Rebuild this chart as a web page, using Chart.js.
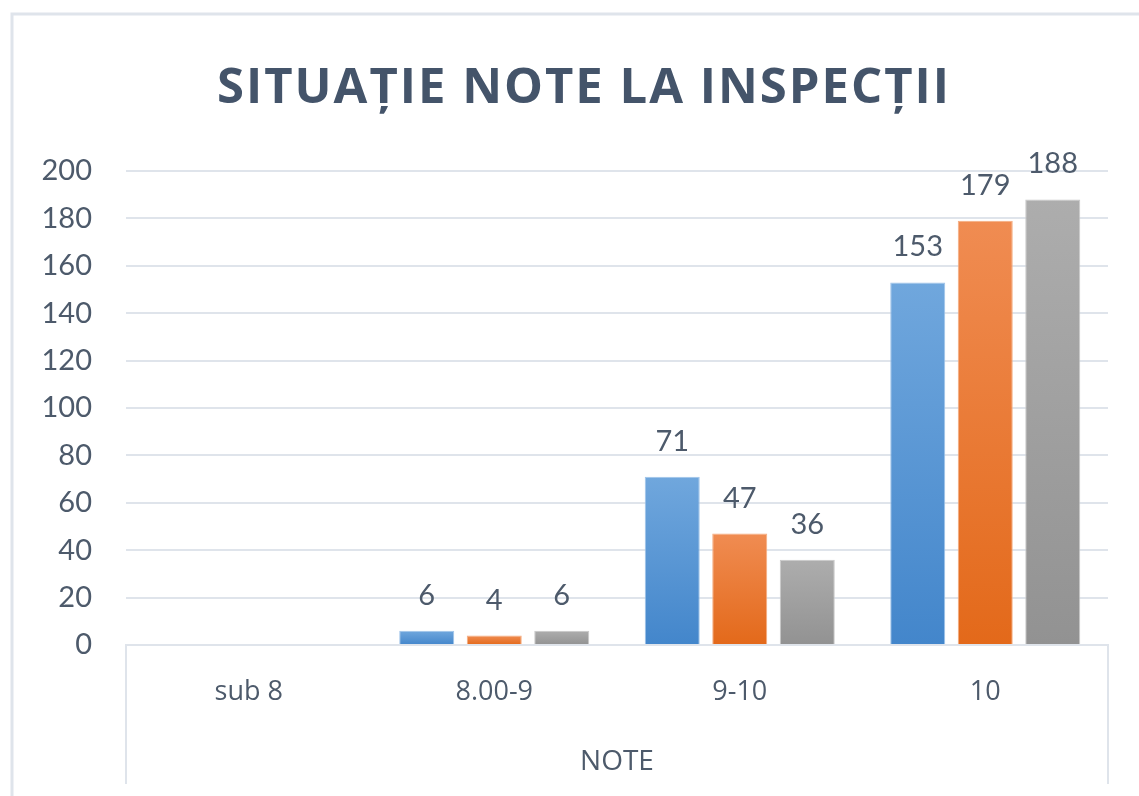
<!DOCTYPE html>
<html>
<head>
<meta charset="utf-8">
<script src="https://cdn.jsdelivr.net/npm/chart.js@4"></script>
<style>
  html, body { margin: 0; padding: 0; background: #fff; }
  #wrap { width: 1139px; height: 796px; position: relative; }
</style>
</head>
<body>
<div id="wrap"><canvas id="chart"></canvas></div>
<script>
const TITLE = "SITUAȚIE NOTE LA INSPECȚII";
const AXIS_TITLE = "NOTE";
const categories = ["sub 8", "8.00-9", "9-10", "10"];
const seriesA = [0, 6, 71, 153];
const seriesB = [0, 4, 47, 179];
const seriesC = [0, 6, 36, 188];
const yTicks = [0, 20, 40, 60, 80, 100, 120, 140, 160, 180, 200];

const TEXT = "#4d5a6b";
const GRID = "#dfe4eb";
const FONT = "Lato, 'Open Sans', sans-serif";
const WIDE = "'Open Sans', Lato, sans-serif";

// top/bottom colours for each series gradient
const GRADS = [
  ["#70a7dd", "#4386cb"],
  ["#f08c52", "#e3691a"],
  ["#adadad", "#929292"],
];
const EDGES = ["#9fc4ea", "#f5ad80", "#c8c8c8"];

function barFill(i) {
  return (c) => {
    const y = c.chart.scales.y;
    if (!y || c.raw == null) return GRADS[i][1];
    const top = y.getPixelForValue(c.raw);
    const bot = y.getPixelForValue(0);
    if (!(bot - top > 0)) return GRADS[i][1];
    const g = c.chart.ctx.createLinearGradient(0, top, 0, bot);
    g.addColorStop(0, GRADS[i][0]);
    g.addColorStop(1, GRADS[i][1]);
    return g;
  };
}

// title, value labels above bars, outer frame and category separators
const decor = {
  id: "decor",
  beforeDraw(chart) {
    const { ctx, chartArea } = chart;
    ctx.save();
    ctx.strokeStyle = GRID;
    ctx.lineWidth = 3;
    ctx.beginPath();
    ctx.moveTo(12, chart.height);
    ctx.lineTo(12, 14);
    ctx.lineTo(chart.width, 14);
    ctx.stroke();
    ctx.lineWidth = 2;
    ctx.beginPath();
    ctx.moveTo(chartArea.left, chartArea.bottom);
    ctx.lineTo(chartArea.left, chartArea.bottom + 139);
    ctx.moveTo(chartArea.right, chartArea.bottom);
    ctx.lineTo(chartArea.right, chartArea.bottom + 139);
    ctx.stroke();

    ctx.font = "bold 49px " + WIDE;
    ctx.fillStyle = "#44546a";
    ctx.textAlign = "center";
    ctx.textBaseline = "alphabetic";
    if ("letterSpacing" in ctx) ctx.letterSpacing = "2px";
    ctx.fillText(TITLE, 584, 103);
    ctx.restore();
  },
  afterDatasetsDraw(chart) {
    const { ctx } = chart;
    ctx.save();
    ctx.font = "29px " + FONT;
    ctx.fillStyle = TEXT;
    ctx.textAlign = "center";
    ctx.textBaseline = "alphabetic";
    chart.data.datasets.forEach((ds, di) => {
      chart.getDatasetMeta(di).data.forEach((el, i) => {
        if (!ds.data[i]) return;
        ctx.fillText(String(ds.data[i]), el.x, el.y - 26);
      });
    });
    ctx.restore();
  },
};

const datasets = [seriesA, seriesB, seriesC].map((d, i) => ({
  label: "Serie " + (i + 1),
  data: d,
  backgroundColor: barFill(i),
  borderColor: EDGES[i],
  borderWidth: 1,
  categoryPercentage: 0.825,
  barPercentage: 0.815,
}));

new Chart(document.getElementById("chart"), {
  type: "bar",
  data: { labels: categories, datasets },
  plugins: [decor],
  options: {
    responsive: true,
    maintainAspectRatio: false,
    animation: false,
    layout: { padding: { top: 171, right: 31, bottom: 0, left: 0 } },
    plugins: {
      legend: { display: false },
      tooltip: { enabled: false },
      title: { display: false },
    },
    scales: {
      x: {
        grid: { display: false, drawTicks: false },
        border: { color: GRID, width: 2 },
        ticks: { color: TEXT, font: { family: WIDE, size: 27 }, padding: 31 },
        title: {
          display: true,
          text: AXIS_TITLE,
          color: TEXT,
          font: { family: WIDE, size: 28 },
          padding: { top: 30, bottom: 17 },
        },
        afterFit(scale) { scale.height = 151; },
      },
      y: {
        min: 0,
        max: 200,
        afterBuildTicks(scale) { scale.ticks = yTicks.map((v) => ({ value: v })); },
        grid: { color: GRID, lineWidth: 2, drawTicks: false },
        border: { display: false },
        ticks: { color: TEXT, font: { family: FONT, size: 29 }, padding: 34 },
        afterFit(scale) { scale.width = 126; },
      },
    },
  },
});
</script>
</body>
</html>
